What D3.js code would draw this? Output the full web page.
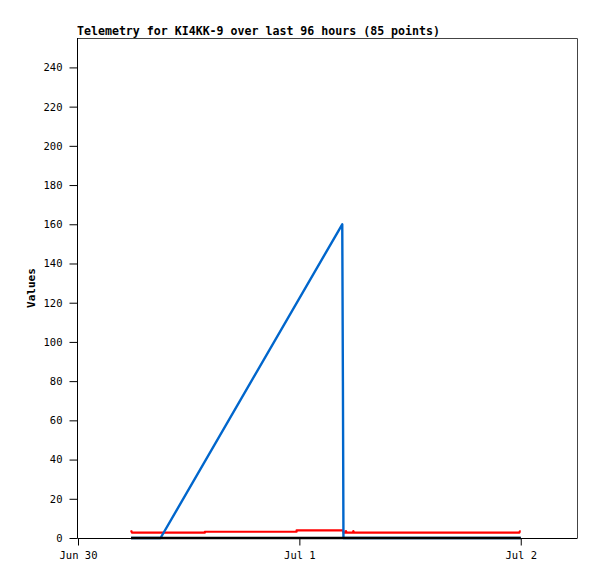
<!DOCTYPE html>
<html>
<head>
<meta charset="utf-8">
<style>
body { margin: 0; background: #fff; }
text { font-family: "DejaVu Sans Mono", "Liberation Mono", monospace; }
.title { font-size: 11.6px; font-weight: bold; }
.ylabel { font-size: 11px; font-weight: bold; }
.axis text { font-size: 10.5px; fill: #000; }
.axis path, .axis line { stroke: #000; }
.line { fill: none; stroke-linejoin: round; }
</style>
</head>
<body>
<svg width="597" height="579"></svg>
<script src="https://d3js.org/d3.v7.min.js"></script>
<script>
// hours since Jun 30 00:00 UTC, value
var blue = [[5.75, 0], [8.95, 0], [28.65, 160], [28.72, 80], [28.78, 0], [48, 0]];
var red = [[5.75, 3.9], [5.85, 2.7], [13.75, 2.7], [13.75, 3.2], [23.7, 3.2], [23.7, 3.9],
           [28.75, 3.9], [28.8, 2.7], [29.0, 2.7], [29.05, 3.5], [29.15, 2.7], [29.8, 2.7],
           [29.85, 3.5], [29.95, 2.7], [47.85, 2.7], [47.9, 3.4], [48, 3.4]];
var black = [[5.75, 0], [48, 0]];
var yTicks = [0, 20, 40, 60, 80, 100, 120, 140, 160, 180, 200, 220, 240];

var svg = d3.select("svg"),
  plotL = 78, plotR = 577, plotT = 38, plotB = 538;

var t0 = Date.UTC(2024, 5, 30);
function toDate(h) { return new Date(t0 + h * 3600e3); }

var x = d3.scaleUtc()
  .domain([toDate(0), toDate(54.1)])
  .range([plotL, plotR]);
var y = d3.scaleLinear()
  .domain([0, 255])
  .range([plotB, plotT]);

// frame
svg.append("path")
  .attr("d", "M" + plotL + "," + (plotT + 0.5) + "H" + (plotR + 0.5) + "V" + plotB)
  .attr("fill", "none")
  .attr("stroke", "#444");

var line = d3.line()
  .x(function(d) { return x(toDate(d[0])); })
  .y(function(d) { return y(d[1]); });

svg.append("path").datum(red).attr("class", "line")
  .attr("stroke", "#ff0000").attr("stroke-width", 2.2).attr("d", line);
svg.append("path").datum(blue).attr("class", "line")
  .attr("stroke", "#0066cc").attr("stroke-width", 2.4).attr("d", line);
svg.append("path").datum(black).attr("class", "line")
  .attr("stroke", "#000").attr("stroke-width", 2.5).attr("d", line);

svg.append("g")
  .attr("class", "axis")
  .attr("transform", "translate(" + (plotL - 0.5) + ",0)")
  .call(d3.axisLeft(y).tickValues(yTicks).tickSize(8).tickPadding(7).tickSizeOuter(0))
  .call(function(g) { g.select(".domain").attr("d", "M0," + plotT + "V" + (plotB + 0.5)); });

svg.append("g")
  .attr("class", "axis")
  .attr("transform", "translate(0," + (plotB + 0.5) + ")")
  .call(d3.axisBottom(x).ticks(d3.utcDay.every(1)).tickFormat(d3.utcFormat("%b %-d"))
    .tickSize(7).tickPadding(6).tickSizeOuter(0))
  .call(function(g) { g.select(".domain").attr("d", "M" + plotL + ",0H" + (plotR + 0.5)); });

svg.append("text")
  .attr("class", "title")
  .attr("x", 77).attr("y", 35)
  .text("Telemetry for KI4KK-9 over last 96 hours (85 points)");

svg.append("text")
  .attr("class", "ylabel")
  .attr("transform", "translate(35," + ((plotT + plotB) / 2) + ") rotate(-90)")
  .attr("text-anchor", "middle")
  .text("Values");
</script>
</body>
</html>
